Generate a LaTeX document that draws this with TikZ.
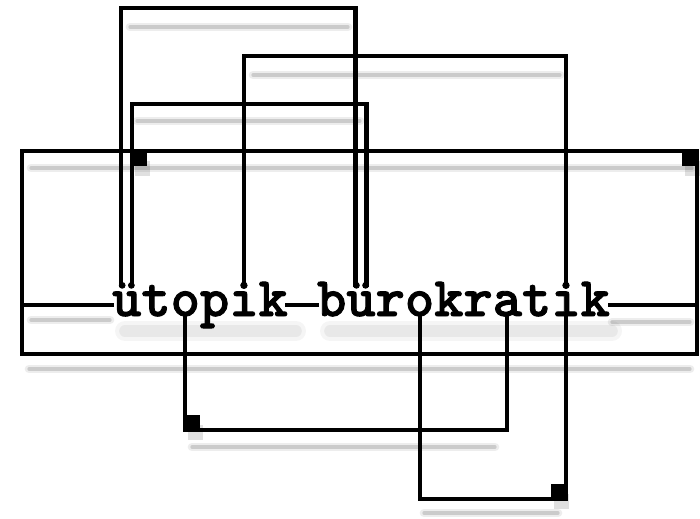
\documentclass[tikz,border=0pt]{standalone}
\usepackage{fontspec}
\newfontfamily\wirefont{lmmonolt10-bold.otf}[FakeBold=1.6]
\usetikzlibrary{positioning,calc}
\begin{document}
\begin{tikzpicture}[
  x=0.03cm,y=-0.03cm,
  wire/.style={line width=1.4mm,line join=miter,line cap=rect},
  frame/.style={draw,wire,outer sep=0pt,inner sep=0pt},
  ghost/.style={draw=black,line width=1mm,opacity=.14,line cap=round,
                preaction={draw=black,line width=2.6mm,opacity=.07,line cap=round}},
  smudge/.style={draw=black,line width=3.5mm,opacity=.05,line cap=round,
                preaction={draw=black,line width=6mm,opacity=.04,line cap=round}},
  stud/.style={fill=black,minimum size=0.45cm,inner sep=0pt,outer sep=0pt},
  word/.style={font=\wirefont\fontsize{47.6}{48}\selectfont,inner sep=0pt}
]
  \useasboundingbox[fill=white] (0,0) rectangle (700,518);

  % shadows on the wall
  \foreach \ya/\xa/\xb in {27/130/348, 75/253/560, 121/137/360, 168/31/692,
                           320/31/110, 322/612/690, 369/29/690, 447/192/495, 513/424/558}
    \draw[ghost] (\xa,\ya) -- (\xb,\ya);
  \draw[smudge] (125,331) -- (296,331);
  \draw[smudge] (330,331) -- (612,331);

  % frame and lettering
  \node[frame,minimum width=20.25cm,minimum height=6.09cm] (box) at (359.5,252.5) {};
  \node[word,anchor=base] (title) at (361,316) {ütopik bürokratik};
  \coordinate (rail) at (0,305);

  % pins on the letters
  \coordinate (ua1) at (121,285);
  \coordinate (ub1) at (132,285);
  \coordinate (ti1) at (244,284);
  \coordinate (ua2) at (355.5,285);
  \coordinate (ub2) at (366.5,285);
  \coordinate (ti2) at (566,284);
  \coordinate (ro1) at (185,316);
  \coordinate (ro2) at (420,316);
  \coordinate (ra1) at (507,316);
  \coordinate (ti2b) at (566,316);

  % rail through the words
  \draw[wire] (box.west |- rail) -- (title.west |- rail);
  \draw[wire] ($(title.west)!6/17!(title.east)$ |- rail) -- ($(title.west)!7/17!(title.east)$ |- rail);
  \draw[wire] (title.east |- rail) -- (box.east |- rail);

  % wires above
  \draw[wire] (ua1) |- (ua2 |- 0,8) -- (ua2);
  \draw[wire] (ub1) |- (ub2 |- 0,104) -- (ub2);
  \draw[wire] (ti1) |- (ti2 |- 0,56) -- (ti2);
  % wires below
  \draw[wire] (ro1) |- (ra1 |- 0,430) -- (ra1);
  \draw[wire] (ro2) |- (ti2b |- 0,499) -- (ti2b);

  % studs
  \node[stud,anchor=north west] (s1) at (ub1 |- box.north) {};
  \node[stud,anchor=north east] (s2) at (box.north east) {};
  \node[stud,anchor=south west] (s3) at (ro1 |- 0,430) {};
  \node[stud,anchor=south east] (s4) at (ti2b |- 0,499) {};
  \foreach \s in {s1,s2,s3,s4}
    \fill[black,opacity=.12] ([shift={(3,10)}]\s.south west) rectangle ([shift={(3,10)}]\s.north east);
\end{tikzpicture}
\end{document}
